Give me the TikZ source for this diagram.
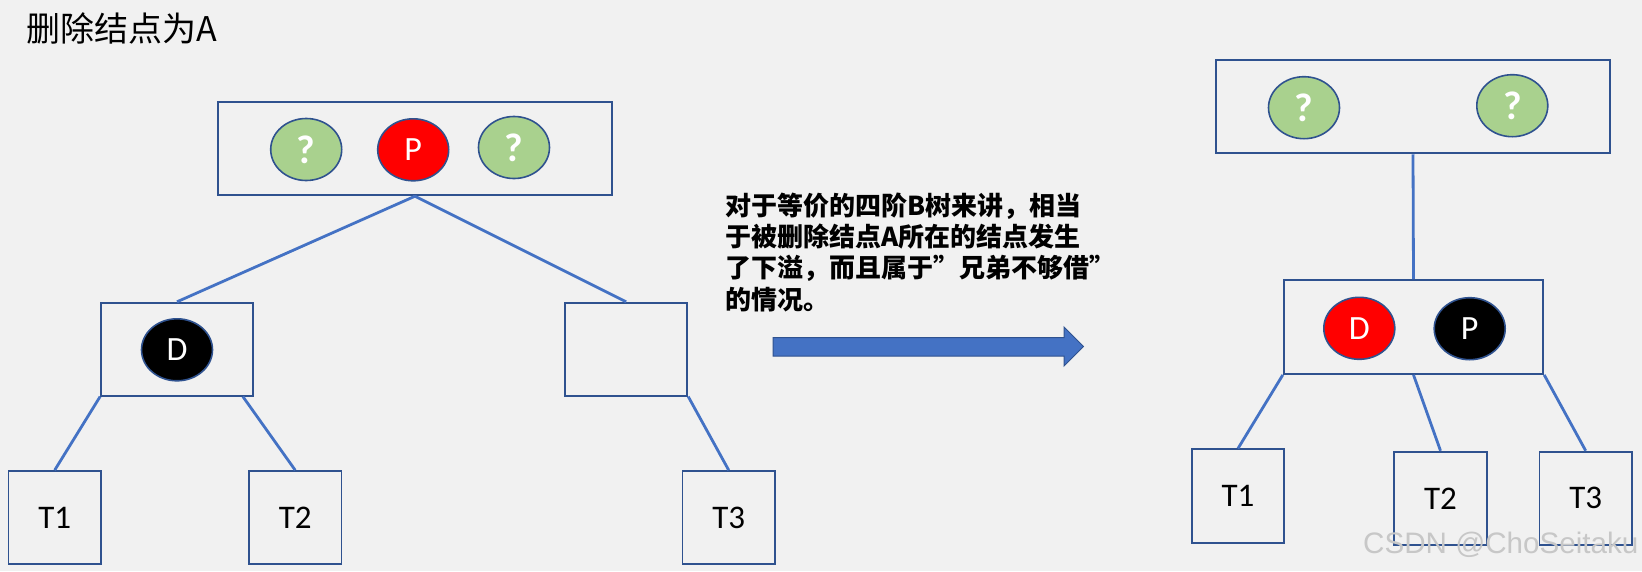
\documentclass[tikz,border=0pt]{standalone}
\usepackage{fontspec}
\setmainfont{Carlito}
\newfontfamily\cjkfont{Noto Sans CJK SC}
\newfontfamily\wmfont{Liberation Sans}
\usetikzlibrary{shapes.geometric}
\newcommand\setfs[1]{\fontsize{#1}{#1}\selectfont}
\definecolor{bg}{HTML}{F1F1F1}
\definecolor{lineblue}{HTML}{4472C4}
\definecolor{borderblue}{HTML}{2F528F}
\definecolor{keygreen}{HTML}{A9D18E}
\definecolor{keyred}{HTML}{FF0000}
\tikzset{
  treebox/.style={draw=borderblue, line width=1.8pt, minimum width=#1, inner sep=0pt},
  leafbox/.style={draw=borderblue, line width=1.8pt, minimum width=92.5pt, minimum height=93.3pt, inner sep=0pt, font=\setfs{33}},
  key/.style={ellipse, draw=borderblue, line width=1.6pt, minimum width=71pt, minimum height=62pt, inner sep=0pt, text=white, fill=#1},
  qkey/.style={key=keygreen, font=\bfseries\setfs{40}},
  lkey/.style={key=#1, font=\setfs{34}},
  conn/.style={draw=lineblue, line width=2.8pt},
  note/.style={anchor=base west, inner sep=0pt, font=\cjkfont\bfseries\setfs{26}}
}
\begin{document}
\begin{tikzpicture}[x=1pt, y=-1pt]
\fill[bg] (0,0) rectangle (1642,571);
\useasboundingbox (0,0) rectangle (1642,571);

% title
\node[anchor=base west, inner sep=0pt, font=\cjkfont\setfs{34}] (title) at (26,41) {删除结点为A};

% left tree
\node[treebox=393.4pt, minimum height=93pt] (rootL) at (415,148.8) {};
\node[qkey] (q1) at (306.2,149.5) {?};
\node[lkey=keyred] (pL) at (413.2,149.8) {P};
\node[qkey] (q2) at (514,147.5) {?};

\node[treebox=152pt, minimum height=93pt] (midL) at (177,349.2) {};
\node[lkey=black] (dL) at (177,349.8) {D};
\node[treebox=122.3pt, minimum height=93pt] (midE) at (626.2,349.2) {};

\node[leafbox] (t1L) at (54.7,517.7) {T1};
\node[leafbox] (t2L) at (295.2,517.7) {T2};
\node[leafbox] (t3L) at (728.7,517.7) {T3};

\draw[conn] (rootL.south) -- (midL.north);
\draw[conn] (rootL.south) -- (midE.north);
\draw[conn] (midL.south west) -- (t1L.north);
\draw[conn] ([xshift=-11pt]midL.south east) -- (t2L.north);
\draw[conn] (midE.south east) -- (t3L.north);

% note text
\node[note] (n1) at (725,215) {对于等价的四阶B树来讲，相当};
\node[note] (n2) at (725,246) {于被删除结点A所在的结点发生};
\node[note] (n3) at (725,277.5) {了下溢，而且属于”兄弟不够借”};
\node[note] (n4) at (725,309) {的情况。};

% big arrow
\filldraw[fill=lineblue, draw=borderblue, line width=1pt]
  (773,337.5) -- (1064,337.5) -- (1064,327) -- (1083.5,346.5) -- (1064,366) -- (1064,356) -- (773,356) -- cycle;

% right tree
\node[treebox=394pt, minimum height=93.3pt] (rootR) at (1413,106.7) {};
\node[qkey] (q3) at (1304,107.7) {?};
\node[qkey] (q4) at (1512.3,105.7) {?};

\node[treebox=259.6pt, minimum height=94pt] (midR) at (1413.5,327) {};
\node[lkey=keyred] (dR) at (1359.3,328.3) {D};
\node[lkey=black] (pR) at (1469.7,328.7) {P};

\node[leafbox] (t1R) at (1238,496) {T1};
\node[leafbox] (t2R) at (1440.5,498.3) {T2};
\node[leafbox] (t3R) at (1585.7,498.3) {T3};

\draw[conn] (rootR.south) -- (midR.north);
\draw[conn] (midR.south west) -- (t1R.north);
\draw[conn] (midR.south) -- (t2R.north);
\draw[conn] (midR.south east) -- (t3R.north);

% watermark
\node[anchor=base west, inner sep=0pt, font=\wmfont\setfs{29.6}, text=black!22] (wm) at (1363,553) {CSDN @ChoSeitaku};
\end{tikzpicture}
\end{document}
